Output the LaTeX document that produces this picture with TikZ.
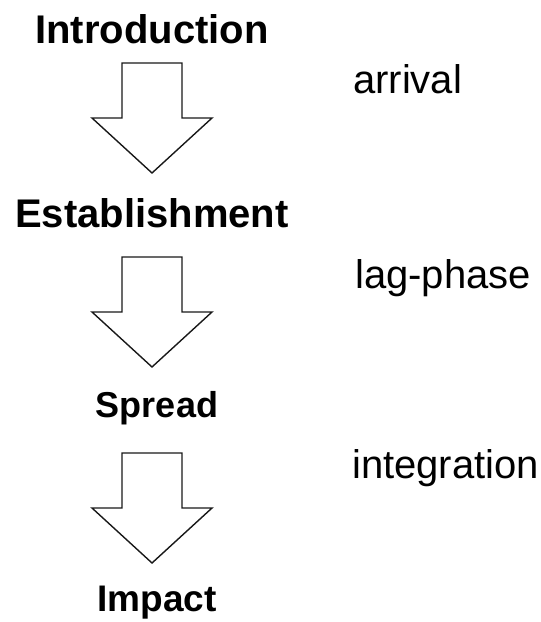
\documentclass[tikz,border=0pt]{standalone}
\usepackage{fontspec}
\setmainfont{Liberation Sans}
\usetikzlibrary{positioning}

\tikzset{
  stage/.style={font=\bfseries\fontsize{#1}{#1}\selectfont, inner sep=0pt, anchor=base},
  stage/.default=40,
  phase/.style={font=\fontsize{40}{40}\selectfont, inner sep=0pt, anchor=base west},
  blockarrow/.style={draw=black!90, line width=1.4pt, fill=white, line join=miter},
  pics/downarrow/.style={code={
    \draw[blockarrow] (-30,0) -- (30,0) -- (30,55) -- (60,55) -- (0,110)
      -- (-60,55) -- (-30,55) -- cycle;
  }},
}

\begin{document}
\begin{tikzpicture}[x=1pt, y=-1pt]
    \useasboundingbox (0,0) rectangle (541,622);

    % Stages
    \node[stage] (intro) at (152,43) {Introduction};
    \node[stage] (estab) at (152,227) {Establishment};
    \node[stage=36] (spread) at (157,417) {Spread};
    \node[stage=37] (impact) at (157,611) {Impact};

    % Block arrows between the stages
    \pic at (152,63) {downarrow};
    \pic at (152,257) {downarrow};
    \pic at (152,453) {downarrow};

    % Phases
    \node[phase] (arrival) at (353,93) {arrival};
    \node[phase] (lag) at (355,288) {lag-phase};
    \node[phase] (integ) at (352,478) {integration};
\end{tikzpicture}
\end{document}
